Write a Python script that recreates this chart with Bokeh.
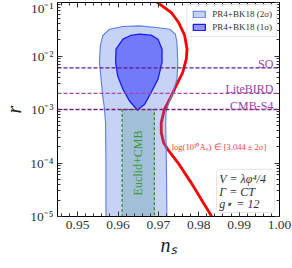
from bokeh.plotting import figure
from bokeh.models import (Range1d, FixedTicker, CustomJSTickFormatter, LinearAxis, LogAxis,
                          Span, Label, BoxAnnotation, Legend, LegendItem)
from bokeh.embed import file_html
from bokeh.resources import INLINE

# ---------------- data ----------------
# PR4+BK18 2-sigma contour (n_s, r)
outer_ns = [0.9570, 0.9570, 0.9569, 0.9566, 0.9562, 0.9558, 0.9554, 0.9556, 0.9562, 0.9579,
            0.9612, 0.9653, 0.9695, 0.9728, 0.9742, 0.9746, 0.9748, 0.9746, 0.9736, 0.9726,
            0.9719, 0.9718, 0.9719, 0.9720, 0.9721, 0.9722]
outer_r = [5e-6, 1.02e-4, 5.7e-4, 1.09e-3, 1.8e-3, 3.7e-3, 7.6e-3, 0.0155, 0.0239, 0.0317,
           0.0356, 0.0366, 0.0341, 0.0317, 0.0255, 0.0179, 7.6e-3, 3.7e-3, 2.08e-3, 1.35e-3,
           8.8e-4, 5.7e-4, 2.4e-4, 6.6e-5, 1e-5, 5e-6]
# PR4+BK18 1-sigma contour
inner_ns = [0.9653, 0.9682, 0.9699, 0.9709, 0.9709, 0.9699, 0.9682, 0.9666, 0.9648, 0.9628,
            0.9612, 0.9599, 0.9594, 0.9595, 0.9612, 0.9631]
inner_r = [0.0256, 0.0245, 0.0206, 0.0134, 0.0076, 0.0037, 0.00208, 0.00126, 0.00097, 0.00146,
           0.00239, 0.00427, 0.0076, 0.0134, 0.0206, 0.0242]
# log(10^10 A_s) constraint curve
as_ns = [0.9680, 0.9698, 0.9732, 0.9750, 0.9765, 0.9771, 0.9769, 0.9760, 0.9744, 0.9730,
         0.9715, 0.9707, 0.9707, 0.9713, 0.9723, 0.9748, 0.9781, 0.9806, 0.9831, 0.9840]
as_r = [0.124, 0.100, 0.0650, 0.0423, 0.0242, 0.0134, 0.0087, 0.0049, 0.0028, 0.00167,
        0.00101, 5.7e-4, 3.7e-4, 2.4e-4, 1.8e-4, 1.02e-4, 4.3e-5, 2.1e-5, 1.03e-5, 7e-6]
# Euclid+CMB forecast band
euclid_ns = [0.961, 0.969]
euclid_r_top = 1e-3
# future experiments sensitivity
exp_names = ["SO", "LiteBIRD", "CMB-S4"]
exp_r = [0.006, 0.002, 0.001]
exp_colors = ["#5a1a8a", "#a048a8", "#7b1f7b"]

x_ticks = [0.95, 0.96, 0.97, 0.98, 0.99, 1.00]
x_tick_labels = ["0.95", "0.96", "0.97", "0.98", "0.99", "1.00"]
x_minor = [0.946 + 0.002 * i for i in range(28)]
y_ticks = [1e-5, 1e-4, 1e-3, 1e-2, 1e-1]
y_tick_labels = ["10⁻⁵", "10⁻⁴", "10⁻³", "10⁻²", "10⁻¹"]
y_minor = [m * 10.0 ** k for k in range(-5, -1) for m in range(2, 10)]

legend_labels = ["PR4+BK18 (2σ)", "PR4+BK18 (1σ)"]
model_lines = ["V = λφ⁴/4", "Γ = CT", "g⋆ = 12"]
as_label = "log(10¹⁰Aₛ) ∈ [3.044 ± 2σ]"

FONT = "Liberation Serif"

# ---------------- figure ----------------
p = figure(frame_width=222, frame_height=214,
           x_range=Range1d(0.945, 1.0), y_range=Range1d(1e-5, 1e-1),
           y_axis_type="log", output_backend="svg", toolbar_location=None,
           min_border_left=45, min_border_right=13, min_border_top=2, min_border_bottom=40)
p.xgrid.visible = False
p.ygrid.visible = False
p.outline_line_color = "black"
p.outline_line_width = 1
p.background_fill_color = "white"

xticker = FixedTicker(ticks=x_ticks, minor_ticks=x_minor)
yticker = FixedTicker(ticks=y_ticks, minor_ticks=y_minor)

fmt_code = """
for (let i = 0; i < vals.length; i++) {
  if (Math.abs(tick - vals[i]) <= 1e-9 * Math.max(Math.abs(vals[i]), 1e-12) + 1e-12) return labs[i];
}
return "";
"""
xfmt = CustomJSTickFormatter(args=dict(vals=x_ticks, labs=x_tick_labels), code=fmt_code)
yfmt = CustomJSTickFormatter(args=dict(vals=y_ticks, labs=y_tick_labels), code=fmt_code)
blank_fmt = CustomJSTickFormatter(code='return "";')

def style_axis(ax, show_labels=True):
    ax.major_tick_in = 5
    ax.major_tick_out = 0
    ax.minor_tick_in = 3
    ax.minor_tick_out = 0
    ax.axis_line_color = "black"
    ax.major_tick_line_color = "#333333"
    ax.minor_tick_line_color = "#333333"
    ax.major_label_text_font = FONT
    ax.major_label_text_font_size = "13.5px"
    ax.major_label_text_color = "#333333"
    if show_labels:
        ax.major_label_standoff = 4
        ax.axis_label_text_font = FONT
        ax.axis_label_text_font_size = "20px"
        ax.axis_label_text_font_style = "italic"
        ax.axis_label_text_color = "#222222"
    else:
        ax.formatter = blank_fmt
        ax.major_label_standoff = 0
        ax.axis_label = None

xa = p.xaxis[0]
xa.ticker = xticker
xa.formatter = xfmt
xa.axis_label = "nₛ"
style_axis(xa)
xa.axis_label_standoff = 2

ya = p.yaxis[0]
ya.ticker = yticker
ya.formatter = yfmt
ya.axis_label = "r"
style_axis(ya)
ya.axis_label_standoff = 2

top_ax = LinearAxis(ticker=xticker)
style_axis(top_ax, show_labels=False)
p.add_layout(top_ax, "above")
right_ax = LogAxis(ticker=yticker)
style_axis(right_ax, show_labels=False)
p.add_layout(right_ax, "right")

# red A_s curve (under the contours)
p.line(as_ns, as_r, line_color="red", line_width=2.8)

# contours
r_outer = p.patch(outer_ns, outer_r, fill_color="#4169e1", fill_alpha=0.3,
                  line_color="#5a7de6", line_width=1.1)
r_inner = p.patch(inner_ns, inner_r, fill_color="#0000ff", fill_alpha=0.42,
                  line_color="#1a1aff", line_width=1.3)

# Euclid+CMB band
p.quad(left=[euclid_ns[0]], right=[euclid_ns[1]], top=[euclid_r_top], bottom=[1e-7],
       fill_color="#5f9ea0", fill_alpha=0.35, line_color="#2e8b2e", line_width=1.2,
       line_dash="3 2")
p.add_layout(Label(x=sum(euclid_ns) / 2, y=1e-4, text="Euclid+CMB", angle=1.5708,
                   text_align="center", text_baseline="middle", text_font=FONT,
                   text_font_size="12px", text_color="#3a9a3a"))

# experiment lines + labels
for name, rv, col in zip(exp_names, exp_r, exp_colors):
    p.add_layout(Span(location=rv, dimension="width", line_color=col,
                      line_width=1.3, line_dash="4 2"))
    p.add_layout(Label(x=0.9985, y=rv, text=name, text_align="right",
                       text_baseline="alphabetic", y_offset=4, text_font=FONT,
                       text_font_size="12px", text_color="#a040b0"))

# A_s label
p.add_layout(Label(x=0.9733, y=1.95e-4, text=as_label, text_align="left",
                   text_baseline="middle", text_font=FONT, text_font_size="8.5px",
                   text_color="#ff4040"))

# model box
p.add_layout(BoxAnnotation(left=0.9844, right=0.9988, top=7.6e-5, bottom=1.19e-5,
                           fill_color="white", fill_alpha=0.85, line_color="#aaaaaa",
                           line_width=1, border_radius=4))
for txt, yv in zip(model_lines, [4.98e-5, 2.81e-5, 1.70e-5]):
    p.add_layout(Label(x=0.9851, y=yv, text=txt, text_align="left", text_baseline="middle",
                       text_font=FONT, text_font_size="12px", text_font_style="italic",
                       text_color="#333333"))

legend = Legend(items=[LegendItem(label=legend_labels[0], renderers=[r_outer]),
                       LegendItem(label=legend_labels[1], renderers=[r_inner])],
                location="top_right", label_text_font=FONT, label_text_font_size="9px",
                label_text_color="#333333", glyph_height=8, glyph_width=15,
                label_height=9, label_standoff=6, spacing=3, padding=4, margin=2,
                border_line_color="#cccccc", background_fill_alpha=0.85)
p.add_layout(legend)

open("out.html", "w").write(file_html(p, INLINE))
